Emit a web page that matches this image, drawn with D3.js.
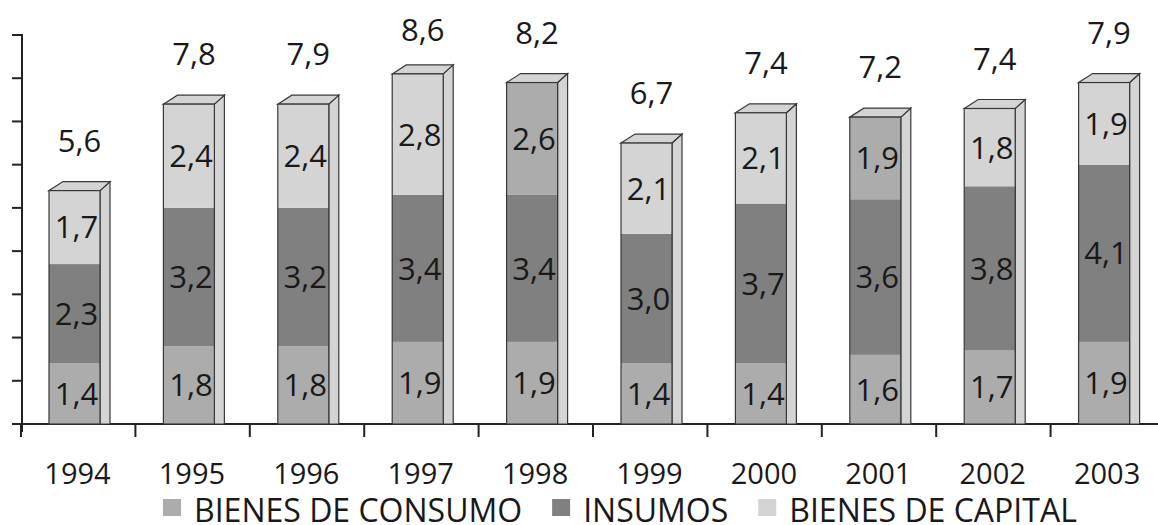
<!DOCTYPE html>
<html>
<head>
<meta charset="utf-8">
<script src="https://cdn.jsdelivr.net/npm/d3@7"></script>
<style>
  html, body { margin: 0; padding: 0; background: #ffffff; }
  svg { display: block; }
  text { font-family: "Open Sans", "DejaVu Sans", sans-serif; font-weight: 400; fill: #1a1819; }
</style>
</head>
<body>
<svg id="chart" width="1158" height="525"></svg>
<script>
// Categories and series (values in the stacks, bottom to top)
const years = ["1994", "1995", "1996", "1997", "1998", "1999", "2000", "2001", "2002", "2003"];
const bienesConsumo = [1.4, 1.8, 1.8, 1.9, 1.9, 1.4, 1.4, 1.6, 1.7, 1.9];
const insumos       = [2.3, 3.2, 3.2, 3.4, 3.4, 3.0, 3.7, 3.6, 3.8, 4.1];
const bienesCapital = [1.7, 2.4, 2.4, 2.8, 2.6, 2.1, 2.1, 1.9, 1.8, 1.9];
const totals        = [5.6, 7.8, 7.9, 8.6, 8.2, 6.7, 7.4, 7.2, 7.4, 7.9];
const seriesNames   = ["BIENES DE CONSUMO", "INSUMOS", "BIENES DE CAPITAL"];
// Years whose capital-goods block is shaded like consumer goods
const capitalShadedYears = ["1998", "2001"];

const fmt = v => d3.format(".1f")(v).replace(".", ",");

const svg = d3.select("#chart");
const colors = { consumo: "#acacac", insumos: "#808080", capital: "#d4d4d4", side: "#d4d4d4", edge: "#383838" };

const baseY = 424;
const y = d3.scaleLinear().domain([0, 9]).range([baseY, 35]);
const x = d3.scaleBand().domain(years).range([21, 21 + 114.4 * years.length]).padding(0);

const barOffset = 28, barW = 51, depthX = 10, depthXL = 14, depthY = 9;

const rows = years.map((yr, i) => ({
  year: yr,
  segs: [
    { key: "consumo", v: bienesConsumo[i] },
    { key: "insumos", v: insumos[i] },
    { key: "capital", v: bienesCapital[i] }
  ],
  total: totals[i]
}));
rows.forEach(r => {
  let acc = 0;
  r.segs.forEach(s => { s.y0 = acc; acc += s.v; s.y1 = acc; });
  r.sum = acc;
});

// Axes
const axisG = svg.append("g").attr("stroke", "#222").attr("stroke-width", 2);
axisG.append("line").attr("x1", 22).attr("x2", 22).attr("y1", y(9) - 1).attr("y2", baseY + 8);
y.ticks(9).forEach(t => {
  axisG.append("line").attr("x1", 12).attr("x2", 22).attr("y1", y(t)).attr("y2", y(t));
});
axisG.append("line").attr("x1", 12).attr("x2", 1158).attr("y1", baseY).attr("y2", baseY);
years.forEach(yr => {
  axisG.append("line").attr("x1", x(yr)).attr("x2", x(yr)).attr("y1", baseY).attr("y2", baseY + 13);
});

// 3D stacked bars
const bars = svg.append("g").selectAll("g.bar").data(rows).join("g").attr("class", "bar");
bars.each(function (r) {
  const g = d3.select(this);
  const x0 = x(r.year) + barOffset, x1 = x0 + barW;
  const yt = y(r.sum);
  // side face
  g.append("polygon")
    .attr("points", [[x1, yt], [x1 + depthX, yt - depthY], [x1 + depthX, baseY], [x1, baseY]].join(" "))
    .attr("fill", colors.side).attr("stroke", colors.edge).attr("stroke-width", 1.2);
  // top face
  g.append("polygon")
    .attr("points", [[x0, yt], [x0 + depthXL, yt - depthY], [x1 + depthX, yt - depthY], [x1, yt]].join(" "))
    .attr("fill", colors.side).attr("stroke", colors.edge).attr("stroke-width", 1.2);
  // front segments
  g.selectAll("rect.seg").data(r.segs).join("rect").attr("class", "seg")
    .attr("x", x0).attr("width", barW)
    .attr("y", s => y(s.y1)).attr("height", s => y(s.y0) - y(s.y1))
    .attr("fill", s => (s.key === "capital" && capitalShadedYears.includes(r.year)) ? colors.consumo : colors[s.key]);
  // front outline
  g.append("rect").attr("x", x0).attr("y", yt).attr("width", barW).attr("height", baseY - yt)
    .attr("fill", "none").attr("stroke", colors.edge).attr("stroke-width", 1.2);
  // segment values
  g.selectAll("text.val").data(r.segs).join("text").attr("class", "val")
    .attr("x", x0 + barW / 2 + 2)
    .attr("y", s => (y(s.y0) + y(s.y1)) / 2)
    .attr("dy", "0.36em")
    .attr("text-anchor", "middle")
    .attr("font-size", 31)
    .text(s => fmt(s.v));
  // total above the bar
  g.append("text")
    .attr("x", x0 + barW / 2 + 5)
    .attr("y", Math.max(yt - 50, 30))
    .attr("dy", "0.36em")
    .attr("text-anchor", "middle")
    .attr("font-size", 31)
    .text(fmt(r.total));
});

// Year labels
svg.append("g").selectAll("text").data(years).join("text")
  .attr("x", d => x(d) + barOffset + barW / 2 + 3)
  .attr("y", 484)
  .attr("text-anchor", "middle")
  .attr("font-size", 29)
  .text(d => d);

// Legend
const legendColors = [colors.consumo, colors.insumos, colors.capital];
const legend = svg.append("g");
let lx = 163;
seriesNames.forEach((name, i) => {
  legend.append("rect").attr("x", lx).attr("y", 499).attr("width", 18).attr("height", 17).attr("fill", legendColors[i]);
  const t = legend.append("text").attr("x", lx + 31).attr("y", 522).attr("font-size", 32).text(name);
  lx += 31 + t.node().getComputedTextLength() + 30;
});
</script>
</body>
</html>
